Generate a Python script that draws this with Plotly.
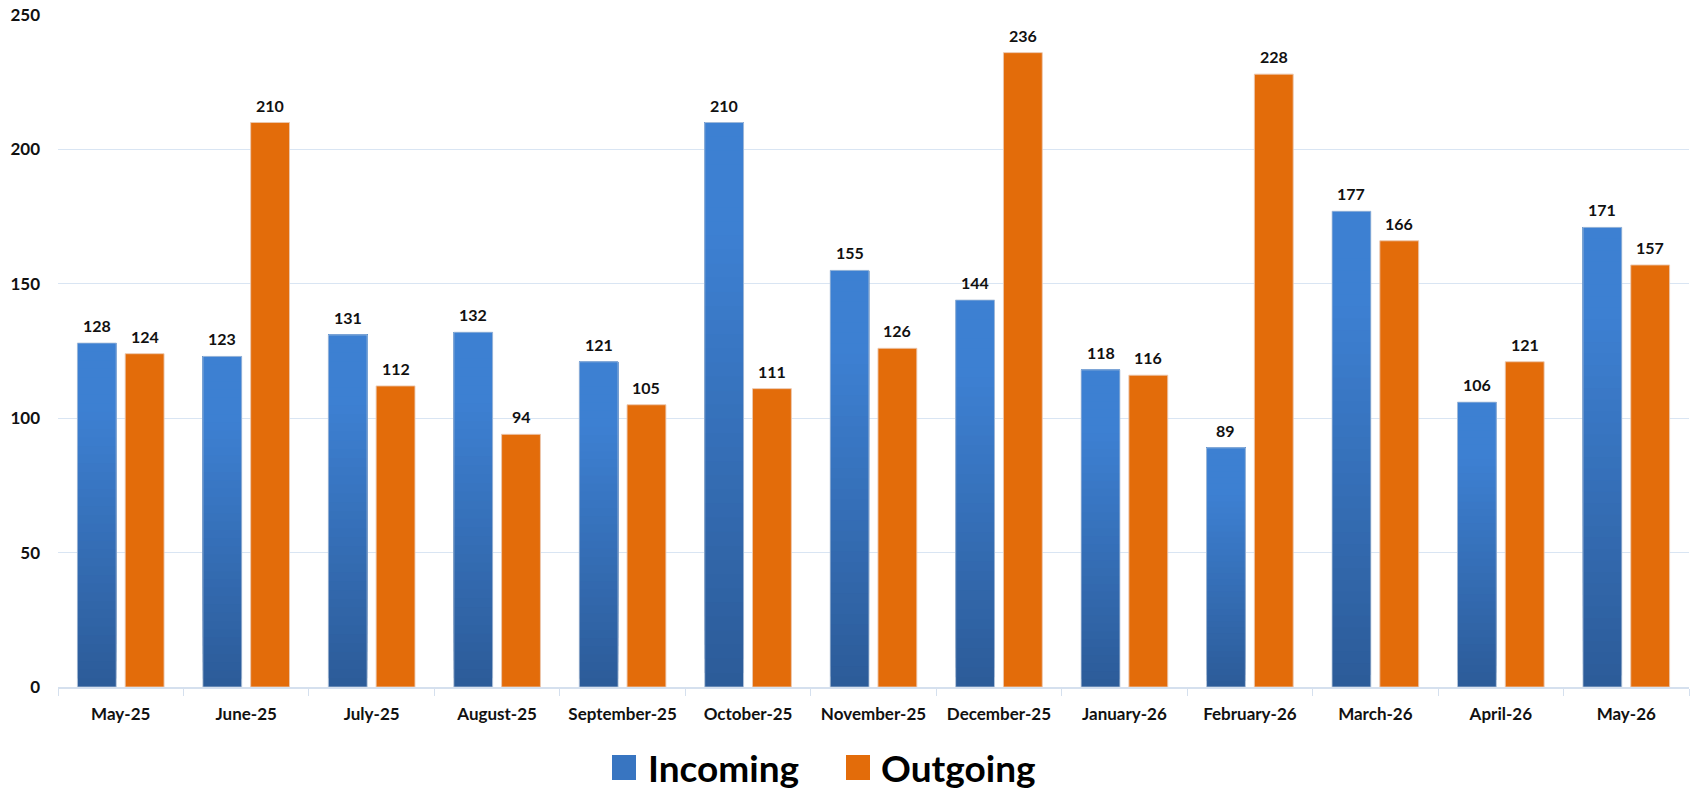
import plotly.graph_objects as go

months = ["May-25", "June-25", "July-25", "August-25", "September-25", "October-25",
          "November-25", "December-25", "January-26", "February-26", "March-26",
          "April-26", "May-26"]
incoming = [128, 123, 131, 132, 121, 210, 155, 144, 118, 89, 177, 106, 171]
outgoing = [124, 210, 112, 94, 105, 111, 126, 236, 116, 228, 166, 121, 157]
y_ticks = [0, 50, 100, 150, 200, 250]

BLUE_TOP = (61, 128, 210)
BLUE_BOT = (44, 91, 152)
ORANGE = "#E36C0A"
FONT = "Lato"

W, H = 1690, 789
ML, MR, MT, MB = 58, 1, 15, 102
PW, PH = W - ML - MR, H - MT - MB
BARGAP, GROUPGAP = 0.238, 0.1875
CAT_W = PW / len(months)
SLOT = CAT_W * (1 - BARGAP) / 2


def lerp(a, b, t):
    return "rgb(%d,%d,%d)" % tuple(round(a[i] + (b[i] - a[i]) * t) for i in range(3))


fig = go.Figure()

# Incoming bars with a vertical gradient: layered slices, each from its level to the top
N = 40
for k in range(N):
    frac = (k + 0.5) / N
    t = min(1.0, frac / 0.8)
    fig.add_trace(go.Bar(
        x=months,
        y=[v * (N - k) / N for v in incoming],
        base=[v * k / N for v in incoming],
        offsetgroup="in",
        marker=dict(color=lerp(BLUE_BOT, BLUE_TOP, t), line=dict(width=0)),
        showlegend=False,
        hoverinfo="skip",
        name="Incoming",
    ))

fig.add_trace(go.Bar(
    x=months, y=incoming, offsetgroup="in",
    marker=dict(color="rgba(0,0,0,0)", line=dict(color="rgba(185,200,220,0.8)", width=1)),
    showlegend=False, hoverinfo="skip", name="Incoming outline",
))

fig.add_trace(go.Bar(
    x=months, y=outgoing, offsetgroup="out",
    marker=dict(color=ORANGE, line=dict(color="rgba(235,200,175,0.9)", width=1)),
    showlegend=False, name="Outgoing",
))


def px_x(x):
    return (x - ML) / PW


def px_y(y):
    return (H - MB - y) / PH


annotations = []
label_font = dict(family=FONT, size=16, color="#111111", weight="bold")
for m, vi, vo in zip(months, incoming, outgoing):
    annotations.append(dict(x=m, y=vi, text=str(vi), showarrow=False, xshift=-SLOT / 2,
                            yanchor="bottom", yshift=6, font=label_font))
    annotations.append(dict(x=m, y=vo, text=str(vo), showarrow=False, xshift=SLOT / 2,
                            yanchor="bottom", yshift=6, font=label_font))

# Legend (drawn manually for large swatches)
shapes = [
    dict(type="rect", xref="paper", yref="paper",
         x0=px_x(612), x1=px_x(636), y0=px_y(780), y1=px_y(755),
         fillcolor=lerp(BLUE_BOT, BLUE_TOP, 0.7), line=dict(width=0)),
    dict(type="rect", xref="paper", yref="paper",
         x0=px_x(846), x1=px_x(870), y0=px_y(780), y1=px_y(755),
         fillcolor=ORANGE, line=dict(width=0)),
]
legend_font = dict(family=FONT, size=37, color="#000000", weight="bold")
annotations += [
    dict(text="Incoming", xref="paper", yref="paper", x=px_x(646), y=px_y(767),
         xanchor="left", yanchor="middle", showarrow=False, font=legend_font),
    dict(text="Outgoing", xref="paper", yref="paper", x=px_x(879), y=px_y(767),
         xanchor="left", yanchor="middle", showarrow=False, font=legend_font),
]

fig.update_layout(
    width=W, height=H,
    margin=dict(l=ML, r=MR, t=MT, b=MB, autoexpand=False),
    paper_bgcolor="white", plot_bgcolor="white",
    barmode="group", bargap=BARGAP, bargroupgap=GROUPGAP,
    showlegend=False,
    shapes=shapes, annotations=annotations,
    font=dict(family=FONT, color="#111111"),
    xaxis=dict(
        type="category", tickson="boundaries", ticks="outside", ticklen=7,
        tickcolor="#D5E0EE", showline=True, linecolor="#D5E0EE", linewidth=2,
        showgrid=False,
        tickfont=dict(family=FONT, size=17, color="#111111", weight="bold"),
        ticklabelstandoff=11,
    ),
    yaxis=dict(
        range=[0, 250], tickvals=y_ticks, showgrid=True, gridcolor="#D9E5F3",
        gridwidth=1, zeroline=False, showline=False, ticks="",
        tickfont=dict(family=FONT, size=17, color="#111111", weight="bold"),
        ticklabelstandoff=17,
    ),
)

fig.write_html("out.html", config={"displayModeBar": False},
               post_script="document.body.style.margin='0';document.body.style.overflow='hidden';")
